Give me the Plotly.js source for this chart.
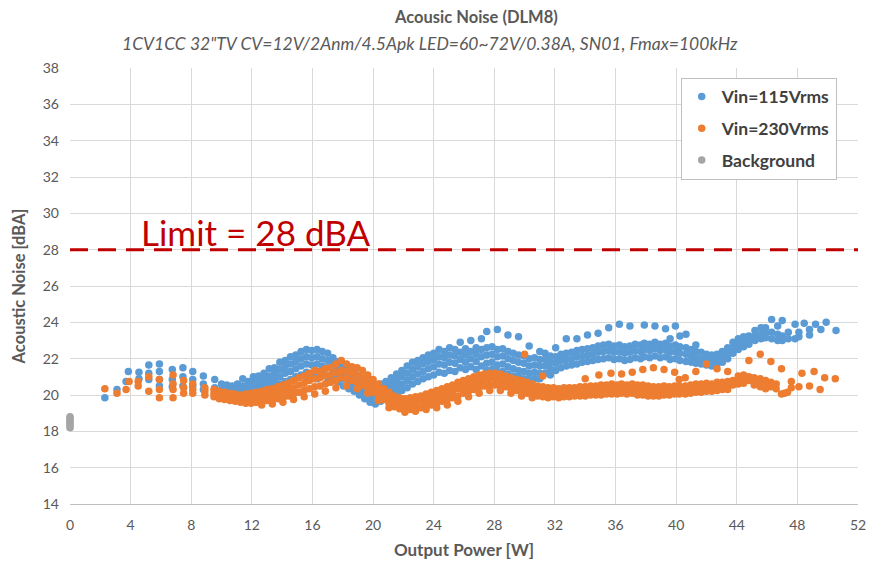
<!DOCTYPE html>
<html>
<head>
<meta charset="utf-8">
<script src="https://cdn.plot.ly/plotly-3.0.1.min.js"></script>
<style>html,body{margin:0;padding:0;background:#fff;}#chart{width:870px;height:564px;}</style>
</head>
<body>
<div id="chart"></div>
<script>
// Vin=115Vrms: each row = [output power W, [noise dBA values at that power]]
const vin115Rows = [
 [2.3,[19.85]],[3.1,[20.3]],[3.7,[20.75]],[3.85,[21.3]],[4.55,[21.25,20.9]],
 [5.2,[21.65,21.2,20.85]],[5.9,[21.7,21.3,20.85,20.5]],[6.75,[21.4,20.85,20.45]],
 [7.45,[21.5,21.0,20.5]],[8.1,[21.3,20.85,20.5]],[8.8,[21.05,20.6,20.3]],
 [9.55,[20.85,20.4,20.15]],[10.0,[20.6,20.3,20.0]],[10.35,[20.55,20.25,19.95]],
 [10.7,[20.5,20.2,19.9]],[11.05,[20.6,20.3,19.95]],[11.4,[20.9,20.5,20.15,19.9]],
 [11.75,[20.75,20.45,20.2]],[12.1,[21.0,20.65,20.35,20.1]],[12.45,[21.05,20.75,20.45]],
 [12.8,[21.2,20.85,20.5,20.2]],[13.15,[21.45,21.05,20.7,20.35]],[13.5,[21.5,21.2,20.85,20.5]],
 [13.85,[21.8,21.4,21.0,20.6]],[14.2,[21.9,21.55,21.2,20.75]],[14.55,[22.1,21.7,21.3,20.85]],
 [14.9,[22.2,21.85,21.45,21.0]],[15.25,[22.4,22.0,21.6,21.1]],[15.6,[22.5,22.1,21.7,21.25,20.9]],
 [15.95,[22.45,22.05,21.65,21.2]],[16.3,[22.5,22.1,21.7,21.3,20.9]],[16.65,[22.4,22.0,21.6,21.15]],
 [17.0,[22.3,21.9,21.5,21.05,20.7]],[17.35,[22.05,21.7,21.3,20.9]],[17.7,[21.85,21.5,21.1,20.7]],
 [18.05,[21.65,21.3,20.9,20.5]],[18.4,[21.45,21.1,20.7,20.35]],[18.75,[21.2,20.85,20.5,20.2]],
 [19.1,[21.0,20.65,20.3,20.0]],[19.45,[20.8,20.45,20.1,19.8]],[19.8,[20.6,20.25,19.9,19.6]],
 [20.15,[20.5,20.1,19.8,19.5]],[20.5,[20.6,20.25,19.9,19.65]],[20.85,[20.75,20.4,20.05,19.8]],
 [21.2,[20.95,20.6,20.25,19.9]],[21.55,[21.15,20.8,20.45,20.1]],[21.9,[21.35,21.0,20.6,20.25]],
 [22.25,[21.6,21.2,20.8,20.4]],[22.6,[21.8,21.4,21.0,20.6]],[22.95,[21.9,21.55,21.15,20.75]],
 [23.3,[22.05,21.7,21.3,20.9]],[23.65,[22.2,21.85,21.45,21.0]],[24.0,[22.3,21.95,21.55,21.1]],
 [24.35,[22.5,22.1,21.7,21.25]],[24.7,[22.4,22.05,21.65,21.2]],[25.05,[22.6,22.2,21.8,21.35]],
 [25.4,[22.5,22.15,21.75,21.3]],[25.75,[22.9,22.35,21.95,21.5]],[26.1,[22.55,22.2,21.8,21.4]],
 [26.45,[23.0,22.4,22.0,21.55]],[26.8,[22.6,22.25,21.85,21.4]],[27.15,[23.1,22.5,22.1,21.6]],
 [27.5,[23.5,22.6,22.2,21.75,21.35]],[27.85,[22.65,22.25,21.8,21.4]],[28.2,[23.6,22.5,22.1,21.65,21.3]],
 [28.55,[22.55,22.15,21.7,21.3]],[28.9,[23.3,22.4,22.0,21.55,21.15]],[29.25,[22.3,21.9,21.45,21.05]],
 [29.6,[23.2,22.2,21.8,21.35,21.0]],[29.95,[22.15,21.75,21.3,20.9]],[30.3,[22.7,22.0,21.6,21.2,20.85]],
 [30.65,[22.05,21.65,21.25,20.9]],[31.0,[22.4,21.95,21.6,21.2,20.9]],[31.35,[22.3,21.95,21.6,21.2]],
 [31.7,[22.15,21.8,21.45,21.1]],[32.05,[22.6,22.1,21.75,21.35]],[32.4,[22.25,21.9,21.5]],
 [32.75,[23.1,22.3,21.95,21.6]],[33.1,[22.35,22.0,21.65]],[33.45,[23.1,22.45,22.1,21.7]],
 [33.8,[22.5,22.15,21.8]],[34.15,[23.3,22.55,22.2,21.85]],[34.5,[22.6,22.25,21.9]],
 [34.85,[23.4,22.7,22.35,21.95]],[35.2,[22.75,22.4,22.0]],[35.55,[23.7,22.8,22.45,22.05]],
 [35.9,[22.7,22.35,21.95]],[36.25,[23.9,22.75,22.4,22.0]],[36.6,[22.65,22.3,21.9]],
 [36.95,[23.8,22.7,22.35,21.95]],[37.3,[22.8,22.45,22.05]],[37.65,[22.75,22.4,22.0]],
 [37.9,[23.85,22.85,22.5,22.1]],[38.25,[22.8,22.45,22.05]],[38.6,[23.8,22.9,22.55,22.15]],
 [38.95,[22.8,22.45,22.05]],[39.3,[23.65,22.85,22.5,22.1]],[39.6,[23.1,22.7,22.35,21.95]],
 [39.95,[23.8,22.75,22.4,22.0]],[40.25,[23.25,22.65,22.3,21.9]],[40.65,[23.35,22.6,22.25,21.85]],
 [41.0,[22.5,22.15,21.8]],[41.3,[22.75,22.4,22.05,21.75]],[41.65,[22.35,22.0,21.7]],
 [42.0,[22.25,21.95,21.65]],[42.35,[22.2,21.9,21.6]],[42.7,[22.25,21.95,21.7]],
 [43.05,[22.4,22.1,21.8]],[43.4,[22.6,22.3,22.0]],[43.75,[22.9,22.6,22.3]],
 [44.1,[23.1,22.8,22.5]],[44.45,[23.2,22.95,22.65]],[44.8,[23.25,23.05,22.8]],
 [45.2,[23.55,23.25,23.0]],[45.6,[23.7,23.35,23.1]],[45.9,[23.7,23.4,23.15]],
 [46.3,[24.15,23.45,23.1]],[46.7,[23.8,23.35,23.0]],[47.0,[24.1,23.25,23.0]],
 [47.4,[23.45,23.1]],[47.85,[23.9,23.1]],[48.1,[23.45,23.2]],[48.45,[23.95]],
 [48.8,[23.6,23.3]],[49.2,[23.9]],[49.55,[23.6]],[49.9,[24.0]],[50.55,[23.55]]
];

// Vin=230Vrms
const vin230Rows = [
 [2.3,[20.35]],[3.1,[20.1]],[3.7,[20.3]],[3.9,[20.75]],[4.5,[20.75,20.5]],
 [5.2,[21.0,20.2]],[5.9,[20.85,20.3,19.85]],[6.8,[21.1,20.6,20.3,19.85]],
 [7.5,[20.8,20.4,20.1]],[8.1,[20.6,20.3,20.1]],[8.9,[20.4,20.2,20.0]],
 [9.5,[20.3,20.1,19.9]],[9.85,[20.2,20.0,19.8]],[10.2,[20.15,19.95,19.75]],
 [10.55,[20.1,19.9,19.7]],[10.9,[20.05,19.85,19.65]],[11.25,[20.0,19.8,19.6]],
 [11.6,[20.05,19.8,19.55]],[11.95,[20.1,19.85,19.55]],[12.3,[20.15,19.9,19.6]],
 [12.65,[20.2,19.95,19.65,19.45]],[13.0,[20.3,20.0,19.7]],[13.35,[20.35,20.05,19.75,19.5]],
 [13.7,[20.45,20.1,19.8]],[14.05,[20.55,20.2,19.85,19.6]],[14.4,[20.65,20.3,19.95]],
 [14.75,[20.8,20.4,20.05,19.75]],[15.1,[20.95,20.55,20.15]],[15.45,[21.05,20.65,20.25,19.9]],
 [15.8,[21.2,20.8,20.35]],[16.15,[21.35,20.9,20.45,20.05]],[16.5,[21.3,20.95,20.5]],
 [16.85,[21.45,21.05,20.6,20.2]],[17.2,[21.5,21.1,20.7]],[17.55,[21.7,21.25,20.8,20.4]],
 [17.9,[21.9,21.35,20.95]],[18.25,[21.7,21.3,20.9,20.5]],[18.6,[21.55,21.2,20.8]],
 [18.95,[21.5,21.1,20.7,20.35]],[19.3,[21.35,20.95,20.55]],[19.65,[21.1,20.75,20.4,20.1]],
 [20.0,[20.85,20.5,20.15]],[20.35,[20.6,20.3,19.95,19.7]],[20.7,[20.35,20.05,19.75]],
 [21.05,[20.15,19.85,19.55,19.3]],[21.4,[19.95,19.65,19.35]],[21.75,[19.85,19.55,19.25]],
 [22.1,[19.8,19.5,19.2,19.05]],[22.45,[19.85,19.55,19.2]],[22.8,[19.9,19.6,19.3,19.1]],
 [23.15,[19.95,19.65,19.3]],[23.5,[20.05,19.7,19.4,19.2]],[23.85,[20.15,19.8,19.45]],
 [24.2,[20.25,19.9,19.55,19.3]],[24.55,[20.35,20.0,19.65]],[24.9,[20.45,20.1,19.75,19.45]],
 [25.25,[20.55,20.2,19.85]],[25.6,[20.7,20.35,19.95,19.65]],[25.95,[20.8,20.45,20.1]],
 [26.3,[20.9,20.55,20.2,19.9]],[26.65,[21.0,20.65,20.3]],[27.0,[21.1,20.75,20.4,20.1]],
 [27.35,[21.15,20.85,20.5]],[27.7,[21.2,20.9,20.55,20.25]],[28.05,[21.2,20.9,20.55]],
 [28.4,[21.15,20.85,20.5,20.25]],[28.75,[21.05,20.75,20.45]],[29.1,[20.95,20.65,20.35,20.1]],
 [29.45,[20.85,20.55,20.25]],[29.8,[20.8,20.5,20.2,19.95]],[30.0,[22.25]],
 [30.15,[20.7,20.4,20.1]],[30.5,[20.6,20.3,20.0,19.85]],[30.85,[20.5,20.2,19.95]],
 [31.2,[21.05,20.45,20.15,19.9]],[31.55,[20.4,20.1,19.85]],[31.9,[20.4,20.15,19.9]],
 [32.25,[20.35,20.1,19.85]],[32.6,[20.4,20.15,19.9]],[32.95,[20.4,20.15,19.9]],
 [33.3,[20.4,20.2,19.95]],[33.65,[20.45,20.2,19.95]],[34.0,[20.9,20.45,20.2,19.95]],
 [34.35,[20.5,20.25,20.0]],[34.7,[20.5,20.25,20.0]],[34.9,[21.1]],
 [35.05,[20.55,20.3,20.0]],[35.4,[20.55,20.3,20.05]],[35.7,[21.2]],
 [35.75,[20.6,20.3,20.05]],[36.1,[20.55,20.3,20.05]],[36.4,[21.15,20.6,20.35,20.1]],
 [36.75,[20.55,20.3,20.05]],[37.1,[21.25,20.6,20.35,20.1]],[37.45,[20.55,20.3,20.0]],
 [37.8,[21.4,20.55,20.3,20.0]],[38.15,[20.5,20.25,19.95]],[38.5,[21.5,20.45,20.2,19.95]],
 [38.85,[20.45,20.2,19.95]],[39.2,[21.4,20.5,20.25,20.0]],[39.55,[20.45,20.2,20.0]],
 [39.9,[21.25,20.5,20.25,20.05]],[40.2,[20.85,20.5,20.25,20.05]],[40.6,[20.95,20.5,20.3,20.05]],
 [40.95,[20.55,20.3,20.1]],[41.3,[21.3,20.6,20.35,20.15]],[41.65,[20.6,20.4,20.15]],
 [42.0,[21.7,20.65,20.4,20.2]],[42.35,[20.6,20.4,20.2]],[42.7,[21.45,20.7,20.45,20.25]],
 [43.05,[20.7,20.5,20.3]],[43.4,[21.3,20.75,20.5,20.3]],[43.75,[20.8,20.55]],
 [44.1,[21.05,20.8,20.6]],[44.45,[21.1,20.9,20.65]],[44.8,[21.9,21.0,20.8]],
 [45.15,[20.95,20.75,20.55]],[45.55,[22.25,20.9,20.65,20.45]],[45.9,[20.8,20.55,20.35]],
 [46.25,[21.85,20.7,20.45]],[46.6,[20.6,20.35]],[46.95,[21.45,20.05]],[47.15,[20.1]],
 [47.35,[20.15]],[47.6,[20.75,20.4]],[48.1,[20.45]],[48.3,[21.2]],[48.8,[20.5]],
 [49.1,[21.3]],[49.5,[20.3]],[49.8,[20.95]],[50.5,[20.9]]
];

// Background noise at 0 W
const backgroundPower = [0,0,0,0,0,0,0];
const backgroundNoise = [18.2,18.3,18.4,18.5,18.6,18.7,18.8];

const limitValue = 28;
const xTicks = [0,4,8,12,16,20,24,28,32,36,40,44,48,52];
const yTicks = [14,16,18,20,22,24,26,28,30,32,34,36,38];

function flatten(rows){
  const xs=[], ys=[];
  rows.forEach(r=>r[1].forEach(v=>{xs.push(r[0]); ys.push(v);}));
  return {xs, ys};
}
const s115 = flatten(vin115Rows);
const s230 = flatten(vin230Rows);

const txt = '#595959';
const mk = 7.5;
const traces = [
  {type:'scatter', mode:'markers', name:'Vin=115Vrms', legendgroup:'a', x:s115.xs, y:s115.ys,
   marker:{color:'#5B9BD5', size:mk}},
  {type:'scatter', mode:'markers', name:'Vin=230Vrms', legendgroup:'b', x:s230.xs, y:s230.ys,
   marker:{color:'#ED7D31', size:mk}},
  {type:'scatter', mode:'markers', name:'Background', legendgroup:'c', x:backgroundPower, y:backgroundNoise,
   marker:{color:'#A5A5A5', size:mk}, cliponaxis:false}
];

const layout = {
  width:870, height:564,
  margin:{l:70, r:12, t:68, b:60},
  paper_bgcolor:'#ffffff', plot_bgcolor:'#ffffff',
  font:{family:'Lato, "Open Sans", sans-serif', color:txt, size:13},
  showlegend:true,
  legend:{x:0.775, y:0.978, xanchor:'left', yanchor:'top', bgcolor:'#ffffff',
    bordercolor:'#BFBFBF', borderwidth:1, traceorder:'grouped', tracegroupgap:6,
    font:{family:'Lato, sans-serif', size:17.5, color:'#404040', weight:'bold'}},
  xaxis:{range:[0,52], tickvals:xTicks, ticktext:xTicks.map(String), showgrid:true, gridcolor:'#D9D9D9',
    zeroline:false, showline:true, linecolor:'#BFBFBF', linewidth:1, ticks:'', ticklabelstandoff:8,
    tickfont:{size:14, color:txt},
    title:{text:'Output Power [W]', font:{size:17, color:txt, weight:'bold'}, standoff:12}},
  yaxis:{range:[14,38], tickvals:yTicks, ticktext:yTicks.map(String), showgrid:true, gridcolor:'#D9D9D9',
    zeroline:false, showline:false, ticks:'', ticklabelstandoff:10,
    tickfont:{size:14, color:txt},
    title:{text:'Acoustic Noise [dBA]', font:{size:16.5, color:txt, weight:'bold'}, standoff:12}},
  shapes:[
    {type:'line', xref:'paper', x0:0, x1:1, yref:'y', y0:limitValue, y1:limitValue,
     line:{color:'#C00000', width:3, dash:'18px,10px'}}
  ],
  annotations:[
    {text:'Acousic Noise (DLM8)', xref:'paper', x:0.5, xshift:12, yref:'paper', y:1, yshift:51, showarrow:false,
     font:{size:16.5, color:txt, weight:'bold'}, xanchor:'center', yanchor:'middle'},
    {text:'1CV1CC 32"TV CV=12V/2Anm/4.5Apk LED=60~72V/0.38A, SN01, Fmax=100kHz', xref:'paper', x:0.5, xshift:-34,
     yref:'paper', y:1, yshift:25, showarrow:false,
     font:{size:17.5, color:txt, style:'italic'}, xanchor:'center', yanchor:'middle'},
    {text:'Limit = '+limitValue+' dBA', xref:'x', x:4.55, yref:'y', y:29.0, showarrow:false,
     xanchor:'left', yanchor:'middle', font:{size:35, color:'#C00000'}}
  ]
};

Plotly.newPlot('chart', traces, layout, {displayModeBar:false, staticPlot:true});
</script>
</body>
</html>
